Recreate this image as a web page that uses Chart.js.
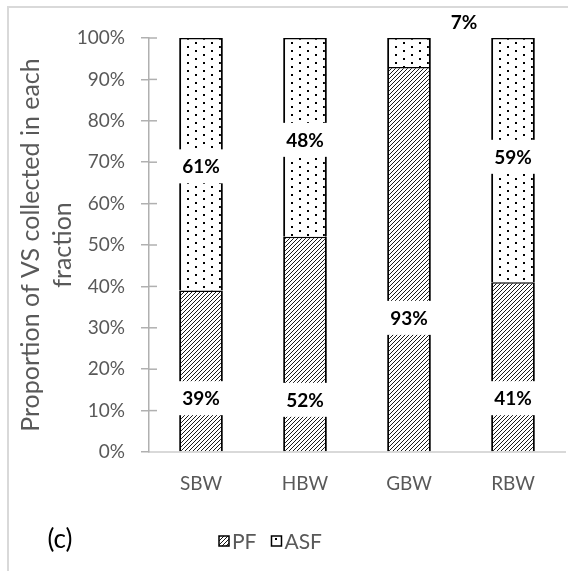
<!DOCTYPE html>
<html>
<head>
<meta charset="utf-8">
<script src="https://cdn.jsdelivr.net/npm/chart.js@4"></script>
<style>
  html, body { margin: 0; padding: 0; background: #fff; }
</style>
</head>
<body>
<canvas id="myChart" width="568" height="571"></canvas>
<script>
// data
const categories = ['SBW', 'HBW', 'GBW', 'RBW'];
const pfValues = [39, 52, 93, 41];
const asfValues = [61, 48, 7, 59];
const yTickLabels = ['0%', '10%', '20%', '30%', '40%', '50%', '60%', '70%', '80%', '90%', '100%'];

const FONT = 'Lato';
const GREY = '#595959';

function hatchPattern(ctx) {
    const c = document.createElement('canvas');
    c.width = 4; c.height = 4;
    const g = c.getContext('2d');
    g.fillStyle = '#fff';
    g.fillRect(0, 0, 4, 4);
    g.strokeStyle = '#000';
    g.lineWidth = 0.9;
    g.beginPath();
    g.moveTo(-1, 5); g.lineTo(5, -1);
    g.moveTo(-1, 1); g.lineTo(1, -1);
    g.moveTo(3, 5); g.lineTo(5, 3);
    g.stroke();
    return ctx.createPattern(c, 'repeat');
}

function dotPattern(ctx) {
    const c = document.createElement('canvas');
    c.width = 16; c.height = 8;
    const g = c.getContext('2d');
    g.fillStyle = '#fff';
    g.fillRect(0, 0, 16, 8);
    g.fillStyle = '#000';
    g.fillRect(3, 2, 2, 2);
    g.fillRect(11, 6, 2, 2);
    return ctx.createPattern(c, 'repeat');
}

// white-boxed bold value labels, placed where the original has them
const barLabels = {
    id: 'barLabels',
    afterDatasetsDraw(chart, args, opts) {
        const ctx = chart.ctx;
        const yScale = chart.scales.y;
        ctx.save();
        ctx.font = 'bold 19px ' + FONT;
        ctx.textAlign = 'center';
        ctx.textBaseline = 'middle';
        chart.data.datasets.forEach((ds, di) => {
            chart.getDatasetMeta(di).data.forEach((bar, i) => {
                const place = opts.places[di][i];
                const text = ds.data[i] + '%';
                const w = ctx.measureText(text).width + 10;
                const h = 34;
                const cx = bar.x + (place.dx || 0);
                const cy = yScale.getPixelForValue(place.at);
                ctx.fillStyle = '#fff';
                ctx.fillRect(cx - w / 2, cy - h / 2, w, h);
                ctx.fillStyle = '#000';
                ctx.fillText(text, cx, cy + 1);
            });
        });
        ctx.restore();
    }
};

// frame, inner tick marks, legend and the panel letter
const extras = {
    id: 'extras',
    afterDraw(chart) {
        const ctx = chart.ctx;
        const yScale = chart.scales.y;
        const area = chart.chartArea;
        ctx.save();

        ctx.strokeStyle = '#b0b0b0';
        ctx.lineWidth = 1.5;
        yScale.ticks.forEach(t => {
            if (t.value === 0) return;
            const py = yScale.getPixelForValue(t.value);
            ctx.beginPath();
            ctx.moveTo(area.left, py);
            ctx.lineTo(area.left + 8, py);
            ctx.stroke();
        });

        ctx.strokeStyle = '#d9d9d9';
        ctx.lineWidth = 2;
        ctx.beginPath();
        ctx.moveTo(8, 571);
        ctx.lineTo(8, 7);
        ctx.lineTo(568, 7);
        ctx.stroke();

        ctx.fillStyle = '#000';
        ctx.font = '26px ' + FONT;
        ctx.textAlign = 'center';
        ctx.textBaseline = 'middle';
        ctx.fillText('(c)', 60, 540);

        let x = 219;
        const ly = 541;
        ctx.font = '21px ' + FONT;
        ctx.textAlign = 'left';
        chart.data.datasets.forEach(ds => {
            ctx.fillStyle = ds.backgroundColor;
            ctx.fillRect(x, ly - 5, 10, 10);
            ctx.strokeStyle = '#000';
            ctx.lineWidth = 1.5;
            ctx.strokeRect(x, ly - 5, 10, 10);
            ctx.fillStyle = GREY;
            ctx.fillText(ds.label, x + 13, ly + 1);
            x += 13 + ctx.measureText(ds.label).width + 15;
        });
        ctx.restore();
    }
};

const canvas = document.getElementById('myChart');
const ctx = canvas.getContext('2d');

new Chart(ctx, {
    type: 'bar',
    data: {
        labels: categories,
        datasets: [{
            label: 'PF',
            data: pfValues,
            backgroundColor: hatchPattern(ctx),
            borderColor: '#000',
            borderWidth: {top: 1.5, left: 2, right: 2, bottom: 0},
            borderSkipped: false,
            barPercentage: 0.42,
            categoryPercentage: 1
        }, {
            label: 'ASF',
            data: asfValues,
            backgroundColor: dotPattern(ctx),
            borderColor: '#000',
            borderWidth: {top: 1.5, left: 2, right: 2, bottom: 0},
            borderSkipped: false,
            barPercentage: 0.42,
            categoryPercentage: 1
        }]
    },
    options: {
        responsive: false,
        animation: false,
        devicePixelRatio: 1,
        layout: { padding: {top: 38, right: 3, bottom: 0, left: 0} },
        plugins: {
            legend: { display: false },
            tooltip: { enabled: false },
            barLabels: {
                places: [
                    [{at: 13}, {at: 12.6}, {at: 32.4}, {at: 13}],
                    [{at: 69}, {at: 75.4}, {at: 104, dx: 55}, {at: 71.3}]
                ]
            }
        },
        scales: {
            x: {
                stacked: true,
                grid: { display: false, drawTicks: false },
                border: { color: '#d9d9d9', width: 2 },
                ticks: { color: GREY, font: {family: FONT, size: 19}, padding: 20 },
                afterFit(scale) { scale.height = 119; }
            },
            y: {
                stacked: true,
                min: 0,
                max: 100,
                grid: { drawOnChartArea: false, tickLength: 8, color: '#b0b0b0', lineWidth: 1.5 },
                border: { color: '#b0b0b0', width: 1.5 },
                ticks: {
                    stepSize: 10,
                    padding: 16,
                    color: GREY,
                    font: {family: FONT, size: 19},
                    callback: (v, i) => yTickLabels[i]
                },
                title: {
                    display: true,
                    text: ['Proportion of VS collected in each', 'fraction'],
                    color: GREY,
                    font: {family: FONT, size: 25, lineHeight: 1.28},
                    padding: {top: 15, bottom: 0}
                },
                afterFit(scale) { scale.width = 149; }
            }
        }
    },
    plugins: [barLabels, extras]
});
</script>
</body>
</html>
